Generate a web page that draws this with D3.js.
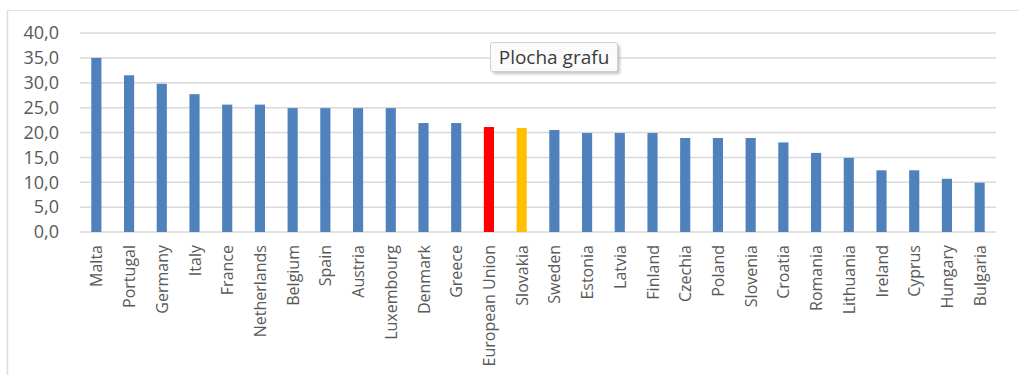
<!DOCTYPE html>
<html>
<head>
<meta charset="utf-8">
<script src="https://cdn.jsdelivr.net/npm/d3@7"></script>
<style>
  html, body { margin: 0; padding: 0; background: #ffffff; }
  svg { display: block; }
</style>
</head>
<body>
<svg id="chart" width="1019" height="375"></svg>
<script>
// Countries in display order
const countries = [
  "Malta", "Portugal", "Germany", "Italy", "France", "Netherlands", "Belgium",
  "Spain", "Austria", "Luxembourg", "Denmark", "Greece", "European Union",
  "Slovakia", "Sweden", "Estonia", "Latvia", "Finland", "Czechia", "Poland",
  "Slovenia", "Croatia", "Romania", "Lithuania", "Ireland", "Cyprus",
  "Hungary", "Bulgaria"
];

// Value per country
const values = [
  35.0, 31.5, 29.8, 27.7, 25.6, 25.6, 24.9,
  24.9, 24.9, 24.9, 21.9, 21.9, 21.1,
  20.9, 20.5, 19.9, 19.9, 19.9, 18.9, 18.9,
  18.9, 18.0, 15.9, 14.9, 12.4, 12.4,
  10.7, 9.9
];

// Y-axis tick values
const yTicks = [0, 5, 10, 15, 20, 25, 30, 35, 40];

// Highlighted categories
const highlightEU = "European Union";
const highlightSK = "Slovakia";

const svg = d3.select("#chart");

const W = 1019, H = 375;
const margin = { left: 80, right: W - 996, top: 33, bottom: H - 232 };

// Outer frame (top and left edges)
svg.append("line").attr("x1", 7.5).attr("x2", W).attr("y1", 10.5).attr("y2", 10.5)
  .attr("stroke", "#e2e2e2").attr("stroke-width", 1.2);
svg.append("line").attr("x1", 7.5).attr("x2", 7.5).attr("y1", 10.5).attr("y2", H)
  .attr("stroke", "#dcdcdc").attr("stroke-width", 1.5);

const x = d3.scaleBand()
  .domain(countries)
  .range([margin.left, W - margin.right])
  .paddingInner(0.69)
  .paddingOuter(0.345);

const y = d3.scaleLinear()
  .domain([0, 40])
  .range([H - margin.bottom, margin.top]);

// Gridlines
svg.append("g")
  .selectAll("line")
  .data(yTicks)
  .join("line")
  .attr("x1", margin.left)
  .attr("x2", W - margin.right)
  .attr("y1", d => y(d))
  .attr("y2", d => y(d))
  .attr("stroke", "#d9d9d9")
  .attr("stroke-width", 1.5);

// Y axis labels
const fmt = d => d3.format(".1f")(d).replace(".", ",");
const yAxis = svg.append("g")
  .attr("transform", `translate(${margin.left},0)`)
  .call(d3.axisLeft(y).tickValues(yTicks).tickFormat(fmt).tickSize(0).tickPadding(21));
yAxis.select(".domain").remove();
yAxis.selectAll("text")
  .attr("font-family", "'Open Sans', sans-serif")
  .attr("font-size", 18)
  .attr("fill", "#595959");

// Bars
svg.append("g")
  .selectAll("rect")
  .data(countries.map((c, i) => ({ c, v: values[i] })))
  .join("rect")
  .attr("x", d => x(d.c))
  .attr("width", x.bandwidth())
  .attr("y", d => y(d.v))
  .attr("height", d => y(0) - y(d.v))
  .attr("fill", d => d.c === highlightEU ? "#ff0000" : d.c === highlightSK ? "#ffc000" : "#4f81bd");

// X axis labels (rotated)
const xAxis = svg.append("g")
  .attr("transform", `translate(0,${y(0)})`)
  .call(d3.axisBottom(x).tickSize(0).tickPadding(0));
xAxis.select(".domain").remove();
xAxis.selectAll("text")
  .attr("font-family", "'Open Sans', sans-serif")
  .attr("font-size", 16)
  .attr("fill", "#595959")
  .attr("text-anchor", "end")
  .attr("dy", null)
  .attr("y", 0)
  .attr("transform", "translate(6,13) rotate(-90)");

// Chart-area tooltip
const tip = svg.append("g").attr("transform", "translate(490,42)");
tip.append("rect")
  .attr("x", 3).attr("y", 3).attr("width", 127).attr("height", 29)
  .attr("rx", 2).attr("fill", "#9a9a9a").attr("opacity", 0.6)
  .style("filter", "blur(1.5px)");
tip.append("rect")
  .attr("x", 0.5).attr("y", 0.5).attr("width", 127).attr("height", 29)
  .attr("rx", 2).attr("fill", "#fbfbfb").attr("stroke", "#cfcfcf");
tip.append("text")
  .attr("x", 64).attr("y", 21.5)
  .attr("text-anchor", "middle")
  .attr("font-family", "'Open Sans', sans-serif")
  .attr("font-size", 19)
  .attr("fill", "#3c3c3c")
  .text("Plocha grafu");
</script>
</body>
</html>
